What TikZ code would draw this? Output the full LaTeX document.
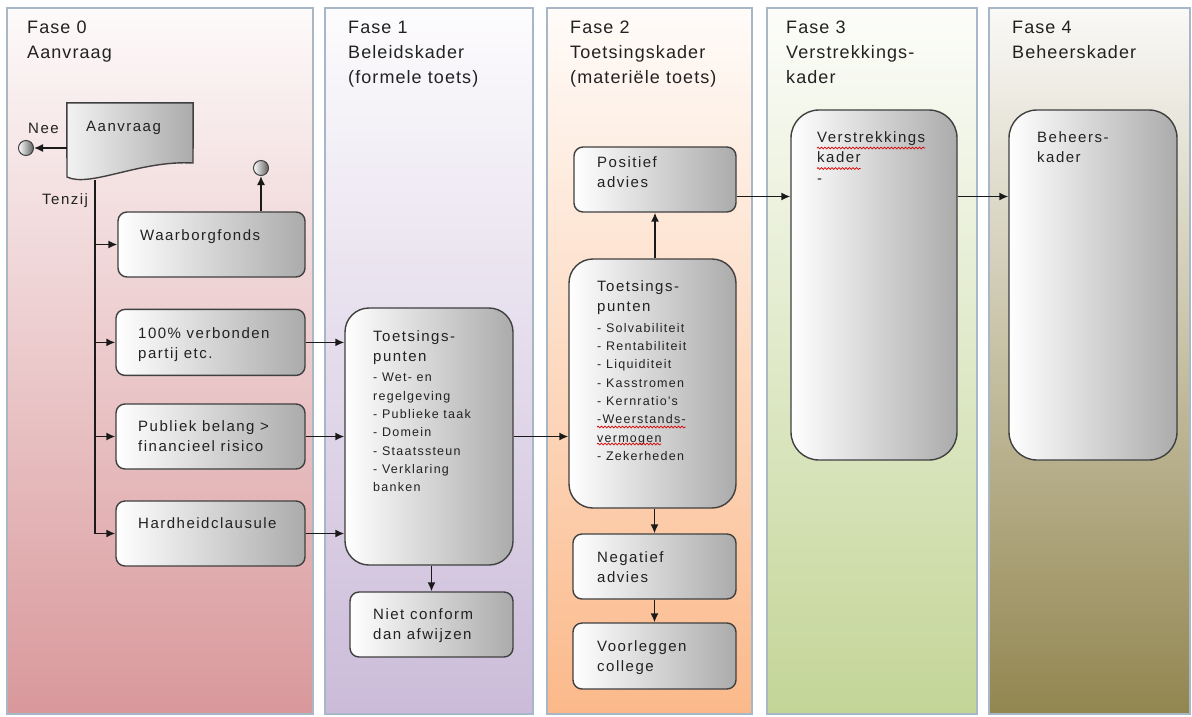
\documentclass[tikz,border=0pt]{standalone}
\usepackage{fontspec}
\setmainfont{Liberation Sans}[LetterSpace=6]
\newfontfamily\bxfam{Liberation Sans}[LetterSpace=10]
\usetikzlibrary{arrows.meta,decorations.pathmorphing}
\definecolor{laneborder}{HTML}{A8B7C8}
\definecolor{lanea}{HTML}{D9989B}
\definecolor{laneb}{HTML}{CBBBD9}
\definecolor{lanec}{HTML}{FBB98A}
\definecolor{laned}{HTML}{C3D597}
\definecolor{lanee}{HTML}{928650}
\definecolor{boxgrey}{HTML}{ABABAB}
\definecolor{boxline}{HTML}{404040}
\definecolor{connc}{HTML}{1A1A1A}
\definecolor{txtc}{HTML}{222222}
\newcommand\ttlfont{\fontsize{18}{25}\selectfont}
\newcommand\bxfont{\bxfam\fontsize{15}{20.5}\selectfont}
\newcommand\smfont{\bxfam\fontsize{12.5}{18.3}\selectfont}
\newlength\wkader
\newlength\wweer
\newlength\wverm
\begin{document}
\settowidth{\wkader}{\bxfont kader}%
\settowidth{\wweer}{\smfont -Weerstands-}%
\settowidth{\wverm}{\smfont vermogen}%
\begin{tikzpicture}[x=1pt,y=-1pt,
  lane/.style={draw=laneborder,line width=1.2pt},
  ttl/.style={anchor=north west,inner sep=0pt,align=left,font=\ttlfont,text=txtc},
  txt/.style={anchor=north west,inner sep=0pt,align=left,font=\bxfont,text=txtc},
  sml/.style={anchor=north west,inner sep=0pt,align=left,font=\smfont,text=txtc},
  box/.style={rectangle,draw=boxline,line width=1.4pt,rounded corners=9pt,left color=white,right color=boxgrey,inner sep=0pt},
  bigbox/.style={box,rounded corners=24pt},
  endpt/.style={circle,draw=boxline,line width=1pt,left color=white,right color=gray!75!black,minimum size=15pt,inner sep=0pt},
  conn/.style={draw=connc,line width=1.5pt,-{Latex[length=9pt,width=8pt]}},
  wave/.style={draw=red!85!black,line width=0.7pt,decorate,decoration={snake,amplitude=0.9pt,segment length=3.5pt}}
]
\useasboundingbox[fill=white] (0,0) rectangle (1192,716);

% swimlanes
\path[lane, top color=lanea!5, bottom color=lanea] (7,8) rectangle (313,714);
\path[lane, top color=laneb!5, bottom color=laneb] (325,8) rectangle (533,714);
\path[lane, top color=lanec!5, bottom color=lanec] (547,8) rectangle (752,714);
\path[lane, top color=laned!5, bottom color=laned] (767,8) rectangle (977,714);
\path[lane, top color=lanee!5, bottom color=lanee] (989,8) rectangle (1190,714);

\node[ttl] (h0) at (27,21) {Fase 0\\Aanvraag};
\node[ttl] (h1) at (348,21) {Fase 1\\Beleidskader\\(formele toets)};
\node[ttl] (h2) at (570,21) {Fase 2\\Toetsingskader\\(materiële toets)};
\node[ttl] (h3) at (786,21) {Fase 3\\Verstrekkings-\\kader};
\node[ttl] (h4) at (1012,21) {Fase 4\\Beheerskader};

% Fase 0
\node[minimum width=126pt,minimum height=67pt,inner sep=0pt] (doc) at (130,136.5) {};
\draw[line width=1.4pt,draw=boxline,left color=white!90!gray,right color=boxgrey]
  (doc.north west) -- (doc.north east) -- (193,163) .. controls (140,160) and (90,188) .. (67,177) -- cycle;
\node[txt] (doctxt) at (86,121) {Aanvraag};
\node[endpt] (endNee) at (26,148) {};
\node[txt,anchor=west] (nee) at (28,128) {Nee};
\node[txt,anchor=west] (tenzij) at (42,201) {Tenzij};
\coordinate (split) at (95,180);

\node[box,minimum width=187pt,minimum height=65pt] (waar) at (211.5,244.5) {};
\node[box,minimum width=189pt,minimum height=66pt] (verb) at (210.5,342.4) {};
\node[box,minimum width=189pt,minimum height=65pt] (publ) at (210.5,436.5) {};
\node[box,minimum width=189pt,minimum height=65pt] (hard) at (210.5,533.5) {};
\node[txt] at (140,229) {Waarborgfonds};
\node[txt] at (138,327) {100\% verbonden\\partij etc.};
\node[txt] at (138,420) {Publiek belang >\\financieel risico};
\node[txt] at (138,517) {Hardheidclausule};
\node[endpt] (endTop) at (261,168) {};

% Fase 1
\node[bigbox,minimum width=168pt,minimum height=257pt] (fb1) at (429,436.5) {};
\node[txt] at (373,330) {Toetsings-\\punten};
\node[sml] at (373,373) {- Wet- en\\regelgeving\\- Publieke taak\\- Domein\\- Staatssteun\\- Verklaring\\banken};
\node[box,minimum width=163pt,minimum height=65pt] (niet) at (431.5,624.5) {};
\node[txt] at (373,608) {Niet conform\\dan afwijzen};

% Fase 2
\node[box,minimum width=162pt,minimum height=65pt] (pos) at (655,179.5) {};
\node[txt] at (597,156) {Positief\\advies};
\node[bigbox,minimum width=167pt,minimum height=249pt] (fb2) at (652.5,383.5) {};
\node[txt] at (597,280) {Toetsings-\\punten};
\node[sml] (i2) at (597,323) {- Solvabiliteit\\- Rentabiliteit\\- Liquiditeit\\- Kasstromen\\- Kernratio's\\-Weerstands-\\vermogen\\- Zekerheden};
\node[box,minimum width=163pt,minimum height=65pt] (neg) at (654.5,566.5) {};
\node[txt] at (597,551) {Negatief\\advies};
\node[box,minimum width=163pt,minimum height=66pt] (voor) at (654.5,656) {};
\node[txt] at (597,640) {Voorleggen\\college};

% Fase 3 / 4
\node[bigbox,rounded corners=28pt,minimum width=166pt,minimum height=350pt] (fb3) at (874,285) {};
\node[txt] (t3) at (817,131) {Verstrekkings\\kader\\-};
\node[bigbox,rounded corners=28pt,minimum width=168pt,minimum height=350pt] (fb4) at (1093,285) {};
\node[txt] at (1037,131) {Beheers-\\kader};

% spelling squiggles
\draw[wave] ([yshift=-17pt]t3.north west) -- ([yshift=-17pt]t3.north east);
\draw[wave] ([yshift=-37.5pt]t3.north west) -- ++(\wkader,0pt);
\draw[wave] ([yshift=-104pt]i2.north west) -- ++(\wweer,0pt);
\draw[wave] ([yshift=-121pt]i2.north west) -- ++(\wverm,0pt);

% connectors
\draw[conn] (doc.west |- endNee) -- (endNee.east);
\draw[conn] (waar.north -| endTop) -- (endTop.south);
\draw[conn] (split) |- (hard.west);
\draw[conn] (split |- waar.west) -- (waar.west);
\draw[conn] (split |- verb.west) -- (verb.west);
\draw[conn] (split |- publ.west) -- (publ.west);
\draw[conn] (verb.east) -- (fb1.west |- verb.east);
\draw[conn] (publ.east) -- (fb1.west |- publ.east);
\draw[conn] (hard.east) -- (fb1.west |- hard.east);
\draw[conn] (niet.north |- fb1.south) -- (niet.north);
\draw[conn] (fb1.east) -- (fb2.west |- fb1.east);
\draw[conn] (pos.south |- fb2.north) -- (pos.south);
\draw[conn] (neg.north |- fb2.south) -- (neg.north);
\draw[conn] (neg.south) -- (voor.north);
\coordinate (rowP) at ([yshift=-17pt]pos.east);
\draw[conn] (rowP) -- (fb3.west |- rowP);
\draw[conn] (fb3.east |- rowP) -- (fb4.west |- rowP);
\end{tikzpicture}
\end{document}
